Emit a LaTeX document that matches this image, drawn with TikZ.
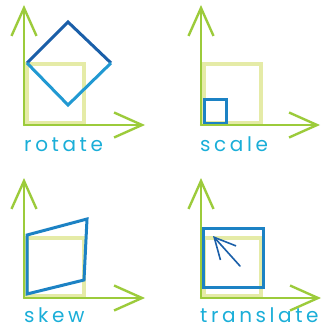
\documentclass[tikz,border=0pt]{standalone}
\usepackage{fontspec}
\setmainfont{Poppins}[LetterSpace=18]
\usetikzlibrary{arrows.meta}
\definecolor{axisgreen}{HTML}{9CCB3B}
\definecolor{ghost}{HTML}{E2E99D}
\definecolor{deepblue}{HTML}{1A5FA9}
\definecolor{midblue}{HTML}{1C82C4}
\definecolor{lightblue}{HTML}{2199D2}
\definecolor{labelcyan}{HTML}{1AAED8}
\tikzset{
  axis/.style={draw=axisgreen, line width=2.4pt, line cap=round,
    -{Straight Barb[length=28pt,width=25pt,line width=2.4pt]}},
  ghostbox/.style={draw=ghost, line width=3.6pt, opacity=0.9},
  shapeline/.style={line width=3pt, line join=miter},
  pointer/.style={draw=deepblue, line width=1.6pt, line cap=round,
    -{Straight Barb[length=21pt,width=21pt,line width=1.6pt]}},
  caption/.style={anchor=base west, inner sep=0pt, text depth=0pt,
    text=labelcyan, font=\fontsize{20}{20}\selectfont},
}
\begin{document}
\begin{tikzpicture}[x=1pt, y=-1pt]
\useasboundingbox (0,0) rectangle (322,329);

% rotate
\begin{scope}[shift={(24,125)}]
  \coordinate (r-o) at (0,0);
  \coordinate (r-y) at (0,-120);
  \coordinate (r-x) at (121,0);
  \draw[ghostbox] (3,-61) rectangle (60,-2);
  \draw[shapeline, deepblue] (3,-62) -- (44,-103) -- (87,-62);
  \draw[shapeline, lightblue] (87,-62) -- (44,-20) -- (3,-62);
  \draw[axis] (r-o) -- (r-y);
  \draw[axis] (r-o) -- (r-x);
  \node[caption] (r-label) at (0,26) {rotate};
\end{scope}

% scale
\begin{scope}[shift={(201,125)}]
  \coordinate (s-o) at (0,0);
  \coordinate (s-y) at (0,-120);
  \coordinate (s-x) at (119,0);
  \draw[ghostbox] (3,-61) rectangle (60,-2);
  \draw[shapeline, midblue] (3,-26) rectangle (25,-2);
  \draw[axis] (s-o) -- (s-y);
  \draw[axis] (s-o) -- (s-x);
  \node[caption] (s-label) at (-1,26) {scale};
\end{scope}

% skew
\begin{scope}[shift={(24,298)}]
  \coordinate (k-o) at (0,0);
  \coordinate (k-y) at (0,-120);
  \coordinate (k-x) at (121,0);
  \draw[ghostbox] (3,-60) rectangle (60,-2);
  \draw[shapeline, midblue] (3,-63) -- (63,-79) -- (60,-18) -- (3,-4) -- cycle;
  \draw[axis] (k-o) -- (k-y);
  \draw[axis] (k-o) -- (k-x);
  \node[caption] (k-label) at (0,24) {skew};
\end{scope}

% translate
\begin{scope}[shift={(201,298)}]
  \coordinate (t-o) at (0,0);
  \coordinate (t-y) at (0,-120);
  \coordinate (t-x) at (120,0);
  \draw[ghostbox] (3,-60) rectangle (60,-2);
  \draw[shapeline, midblue] (2,-70) rectangle (62,-11);
  \coordinate (t-tail) at (39,-32);
  \coordinate (t-head) at (12,-62);
  \draw[pointer] (t-tail) -- (t-head);
  \draw[axis] (t-o) -- (t-y);
  \draw[axis] (t-o) -- (t-x);
  \node[caption] (t-label) at (-1,24) {translate};
\end{scope}
\end{tikzpicture}
\end{document}
